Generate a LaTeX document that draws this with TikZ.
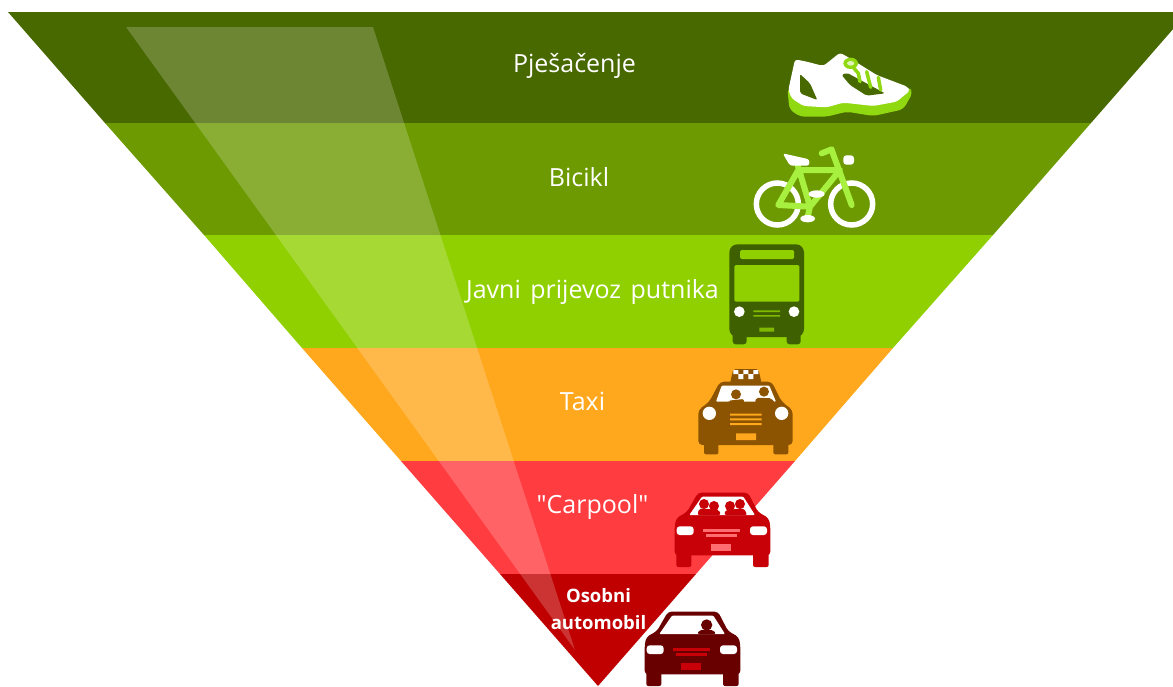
\documentclass[tikz,border=0pt]{standalone}
\usepackage{fontspec}
\setmainfont{Open Sans}
\definecolor{bandA}{HTML}{486800}
\definecolor{bandB}{HTML}{6C9A00}
\definecolor{bandC}{HTML}{90D000}
\definecolor{bandD}{HTML}{FFA81E}
\definecolor{bandE}{HTML}{FF3C40}
\definecolor{bandF}{HTML}{C00000}
\definecolor{shoeG}{HTML}{90D810}
\definecolor{bikeG}{HTML}{A8F040}
\definecolor{busG}{HTML}{3E6000}
\definecolor{taxiB}{HTML}{8C5400}
\definecolor{carD}{HTML}{C80008}
\definecolor{carK}{HTML}{680000}
\newcommand{\straightq}{\XeTeXglyph\XeTeXcharglyph34\relax}
\tikzset{
  lab/.style={text=white,font=\fontsize{25}{28}\selectfont,inner sep=0pt,anchor=center},
  smalllab/.style={text=white,font=\bfseries\fontsize{18.5}{27}\selectfont,inner sep=0pt,align=center},
  ic/.style={shift={#1},scale=0.33333},
}
% car body, local coordinates: width 285, cabin top at 0
\newcommand{\carbody}[4]{% body, window, lamp, detail
  \fill[#1,rounded corners=3.5pt] (70,0) -- (220,0) -- (250,58) -- (282,76) -- (287,100) -- (287,188) -- (0,188) -- (0,100) -- (5,76) -- (37,58) -- cycle;
  \fill[#1,rounded corners=2pt] (5,180) -- (5,223) -- (50,223) -- (50,180) -- cycle;
  \fill[#1,rounded corners=2pt] (235,180) -- (235,223) -- (282,223) -- (282,180) -- cycle;
  \fill[#2,rounded corners=1pt] (44,67) -- (82,12) -- (206,12) -- (241,67) -- cycle;
  \fill[#3,rounded corners=3pt] (6,101) rectangle (57,127);
  \fill[#3,rounded corners=3pt] (226,101) rectangle (277,127);
  \fill[#4] (85,110) rectangle (196,118);
  \fill[#4] (95,125) rectangle (186,132);
  \fill[#4] (110,155) rectangle (170,176);
}
\begin{document}
\begin{tikzpicture}[x=1pt,y=-1pt]
\useasboundingbox (0,0) rectangle (1173,686);
% bands
\begin{scope}
\clip (0,0) rectangle (1173,686);
\fill[bandA] (8,12) -- (1188,12) -- (1091,123) -- (105,123) -- cycle;
\fill[bandB] (105,123) -- (1091,123) -- (993,235) -- (204,235) -- cycle;
\fill[bandC] (204,235) -- (993,235) -- (893,348) -- (302,348) -- cycle;
\fill[bandD] (302,348) -- (893,348) -- (795,461) -- (401,461) -- cycle;
\fill[bandE] (401,461) -- (795,461) -- (696,574) -- (500,574) -- cycle;
\fill[bandF] (500,574) -- (696,574) -- (598,686) -- cycle;
\fill[white,opacity=0.2] (126,27) -- (373,27) -- (575,650) -- cycle;
\end{scope}
% labels
\node[lab] (l1) at (574.5,66) {Pješačenje};
\node[lab] (l2) at (579,177) {Bicikl};
\node[lab] (l3) at (592.5,292) {Javni\hspace{3pt} prijevoz\hspace{3pt} putnika};
\node[lab] (l4) at (582.5,401) {Taxi};
\node[lab] (l5) at (592.5,507) {\straightq Carpool\straightq};
\node[smalllab] (l6) at (598.5,609) {Osobni\\automobil};
% shoe
\begin{scope}[ic={(700,30)}]
\fill[shoeG,rounded corners=5pt] (262,172) -- (300,205) -- (440,205) -- (625,172) -- (640,185) -- (610,238) -- (520,258) -- (440,245) -- (380,260) -- (300,260) -- (268,238) -- cycle;
\fill[white,rounded corners=3pt] (265,180) -- (285,88) -- (320,95) -- (370,108) -- (420,68) -- (450,85) -- (530,135) -- (622,170) -- (630,182) -- (590,215) -- (520,228) -- (430,218) -- (380,232) -- (310,228) -- (275,205) -- cycle;
\fill[bandA,rounded corners=2pt] (300,132) -- (330,160) -- (352,210) -- (300,190) -- cycle;
\fill[bandA,rounded corners=2pt] (425,135) -- (440,128) -- (555,190) -- (500,197) -- (450,165) -- cycle;
\draw[shoeG,line width=3.5pt,line cap=round] (445,95) -- (475,130) -- (480,155) (500,125) -- (512,172) (535,142) -- (542,180);
\fill[shoeG] (452,100) ellipse (22 and 17);
\fill[white!70!shoeG] (452,100) ellipse (11 and 7);
\end{scope}
% bike
\begin{scope}[ic={(700,30)}]
\draw[white,line width=5.5pt] (232,522) circle (63) (455,522) circle (63);
\draw[bikeG,line width=6pt,line cap=round,line join=round] (235,525) -- (295,420) -- (420,420) -- (330,530) -- cycle
  (290,395) -- (330,530) -- (322,565)
  (395,360) -- (455,525) (365,370) -- (395,358);
\fill[white,rounded corners=2.5pt] (248,370) -- (328,388) -- (328,407) -- (270,407) -- cycle;
\fill[white,rounded corners=3pt] (430,376) rectangle (462,404);
\fill[white] (350,492) ellipse (24 and 11);
\fill[white] (323,566) ellipse (22 and 11);
\end{scope}
% bus
\begin{scope}[ic={(680,235)}]
\fill[busG,rounded corners=3pt] (158,290) rectangle (200,328) (320,290) rectangle (362,328);
\fill[busG,rounded corners=8pt] (148,28) rectangle (372,306);
\fill[bandC,rounded corners=1.5pt] (180,45) rectangle (342,72);
\fill[bandC,rounded corners=1.5pt] (163,90) rectangle (358,200);
\fill[white] (178,230) circle (16) (342,230) circle (16);
\fill[bandC!80!busG] (220,226) rectangle (300,231) (220,240) rectangle (300,245) (238,278) rectangle (282,290);
\end{scope}
% taxi
\begin{scope}[ic={(680,235)}]
\fill[taxiB,rounded corners=2pt] (160,402) -- (235,402) -- (245,445) -- (150,445) -- cycle;
\fill[taxiB,rounded corners=2pt] (72,615) rectangle (115,658) (280,615) rectangle (325,658);
\fill[taxiB,rounded corners=4pt] (120,440) -- (275,440) -- (305,500) -- (338,525) -- (338,630) -- (55,630) -- (55,525) -- (88,500) -- cycle;
\fill[white,rounded corners=1pt] (108,500) -- (125,452) -- (268,452) -- (288,500) -- cycle;
\fill[taxiB] (168,478) circle (15) (252,470) circle (15);
\fill[taxiB,rounded corners=2pt] (145,505) -- (145,497) -- (192,492) -- (192,505) -- cycle;
\fill[taxiB,rounded corners=2pt] (225,505) -- (228,488) -- (275,490) -- (285,505) -- cycle;
\fill[white] (88,535) circle (20) (305,535) circle (20);
\fill[bandD] (150,536) rectangle (245,542) (150,550) rectangle (245,556) (150,564) rectangle (245,570) (168,595) rectangle (228,615);
\fill[white] (160,405) rectangle (175,417) (190,405) rectangle (205,417) (220,405) rectangle (235,417)
  (175,417) rectangle (190,432) (205,417) rectangle (220,432);
\end{scope}
% carpool
\begin{scope}[ic={(540,480)}]
\begin{scope}[shift={(404,38)}]
\carbody{carD}{white}{white}{bandE!75!white}
\end{scope}
\fill[carD] (492,72) circle (15) (522,78) circle (15) (570,78) circle (15) (600,72) circle (15);
\fill[carD,rounded corners=2pt] (472,105) -- (478,85) -- (538,90) -- (542,105) -- cycle;
\fill[carD,rounded corners=2pt] (553,105) -- (556,90) -- (612,85) -- (622,105) -- cycle;
\end{scope}
% car
\begin{scope}[ic={(540,480)}]
\begin{scope}[shift={(314,395)}]
\carbody{carK}{white}{white}{carD}
\end{scope}
\fill[carK] (500,435) circle (17);
\fill[carK,rounded corners=2pt] (472,462) -- (478,450) -- (520,450) -- (528,462) -- cycle;
\end{scope}
\end{tikzpicture}
\end{document}
